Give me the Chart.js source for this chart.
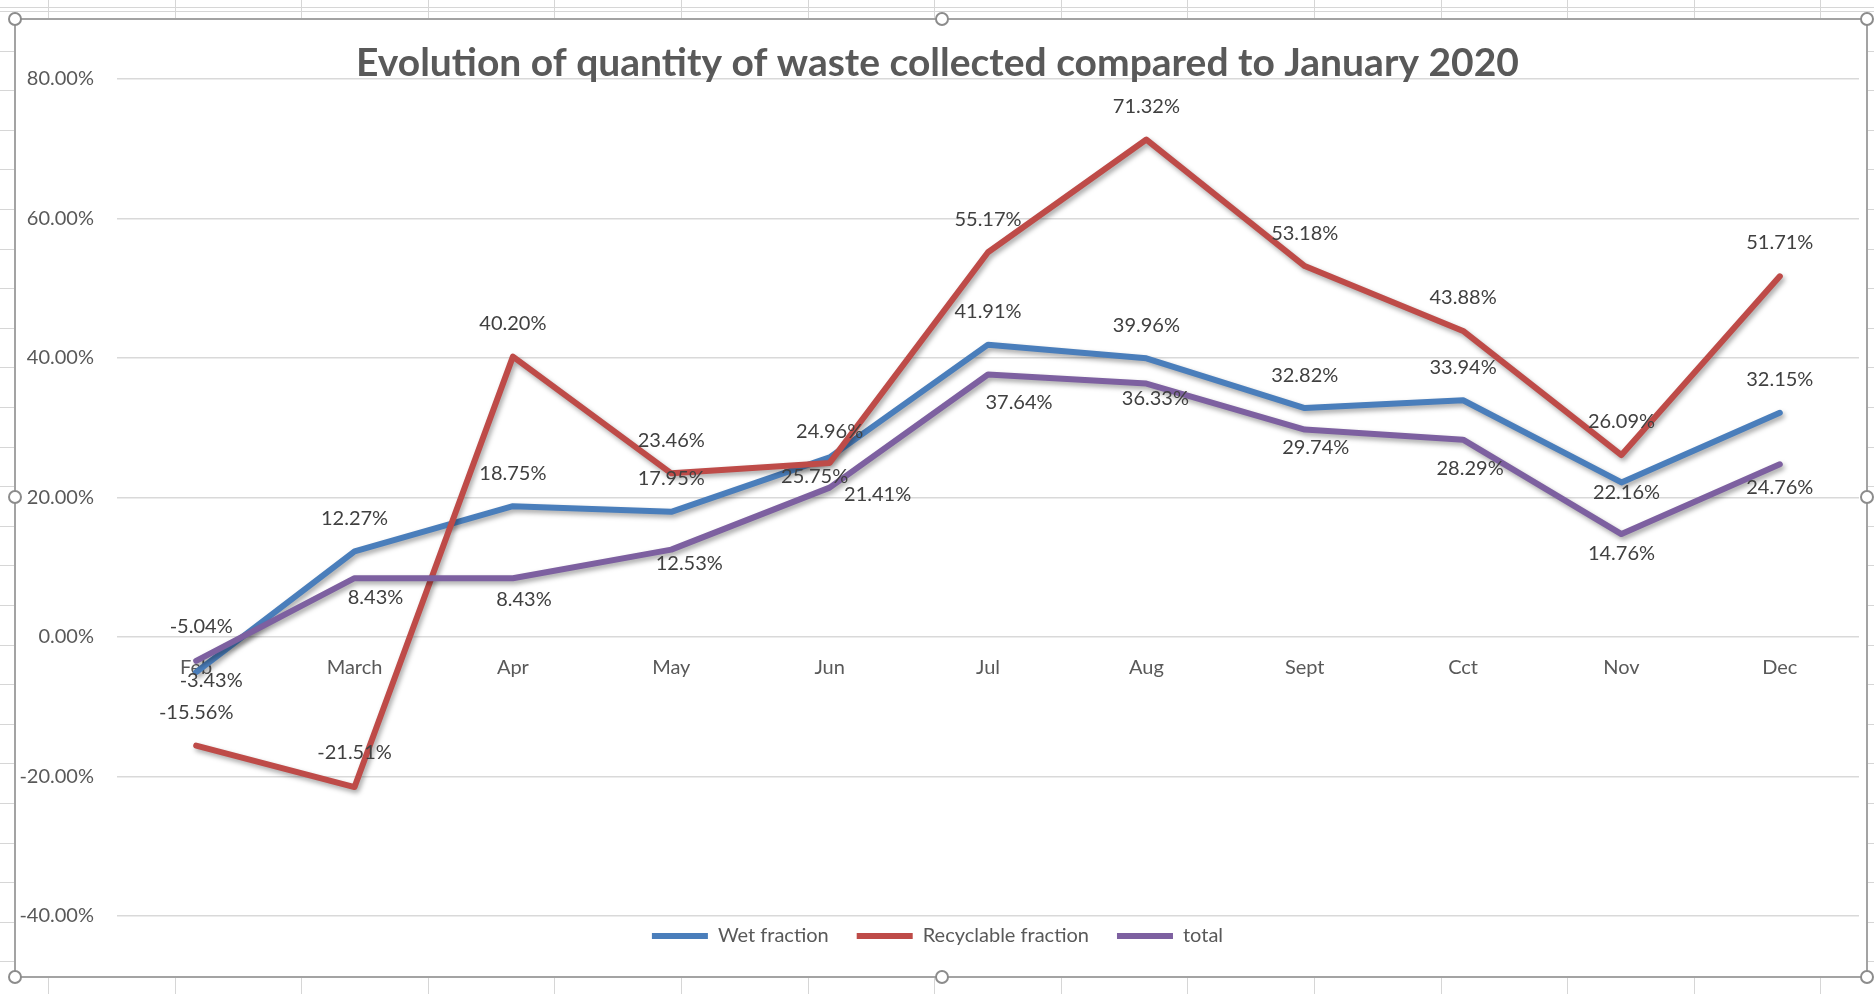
<!DOCTYPE html>
<html>
<head>
<meta charset="utf-8">
<script src="https://cdn.jsdelivr.net/npm/chart.js@4/dist/chart.umd.min.js"></script>
<style>
  html, body { margin: 0; padding: 0; }
  body {
    width: 1874px; height: 994px; overflow: hidden; position: relative;
    background-color: #ffffff;
    background-image:
      repeating-linear-gradient(to right, #d6d6d6 0px, #d6d6d6 1px, transparent 1px, transparent 126.6px),
      repeating-linear-gradient(to bottom, #d6d6d6 0px, #d6d6d6 1px, transparent 1px, transparent 39.6px);
    background-position: 48px 0px, 0px 11px;
  }
  #frame {
    position: absolute; left: 14px; top: 18px; width: 1854px; height: 960px;
    box-sizing: border-box; border: 2px solid #a3a3a3; background: #ffffff;
  }
  #wrap { position: absolute; left: 16px; top: 20px; width: 1848px; height: 954px; }
  .handle {
    position: absolute; width: 14px; height: 14px; box-sizing: border-box;
    border: 2px solid #8c8c8c; border-radius: 50%; background: #ffffff;
    transform: translate(-50%, -50%);
  }
</style>
</head>
<body>
<div id="frame"></div>
<div id="wrap"><canvas id="chart"></canvas></div>
<div class="handle" style="left:15px;top:19px"></div>
<div class="handle" style="left:942px;top:19px"></div>
<div class="handle" style="left:1867px;top:19px"></div>
<div class="handle" style="left:15px;top:497px"></div>
<div class="handle" style="left:1867px;top:497px"></div>
<div class="handle" style="left:15px;top:977px"></div>
<div class="handle" style="left:942px;top:977px"></div>
<div class="handle" style="left:1867px;top:977px"></div>
<script>
// ---- data ----
const categories = ['Feb', 'March', 'Apr', 'May', 'Jun', 'Jul', 'Aug', 'Sept', 'Cct', 'Nov', 'Dec'];
const wetFraction = [-5.04, 12.27, 18.75, 17.95, 25.75, 41.91, 39.96, 32.82, 33.94, 22.16, 32.15];
const recyclableFraction = [-15.56, -21.51, 40.20, 23.46, 24.96, 55.17, 71.32, 53.18, 43.88, 26.09, 51.71];
const total = [-3.43, 8.43, 8.43, 12.53, 21.41, 37.64, 36.33, 29.74, 28.29, 14.76, 24.76];
const yTickValues = [-40, -20, 0, 20, 40, 60, 80];
const seriesNames = ['Wet fraction', 'Recyclable fraction', 'total'];
const titleText = 'Evolution of quantity of waste collected compared to January 2020';

// ---- label placement (styling only: pixel offsets of each data label from its point) ----
const wetLabelDx = [5, 0, 0, 0, -15, 0, 0, 0, 0, 5, 0];
const wetLabelDy = [-46, -33, -33, -33, 19, -33, -33, -33, -33, 10, -33];
const recLabelDx = [0, 0, 0, 0, 0, 0, 0, 0, 0, 0, 0];
const recLabelDy = [-33, -34, -33, -33, -31, -33, -33, -33, -33, -33, -34];
const totLabelDx = [15, 21, 11, 18, 48, 31, 9, 11, 7, 0, 0];
const totLabelDy = [20, 19, 21, 14, 7, 28, 15, 18, 29, 19, 23];

const FONT = 'Lato, "Open Sans", "DejaVu Sans", sans-serif';
const TEXT = '#595959';

const shadowPlugin = {
  id: 'lineShadow',
  beforeDatasetDraw(chart) {
    const ctx = chart.ctx;
    ctx.save();
    ctx.shadowColor = 'rgba(0,0,0,0.35)';
    ctx.shadowBlur = 5;
    ctx.shadowOffsetX = 2;
    ctx.shadowOffsetY = 3;
  },
  afterDatasetDraw(chart) { chart.ctx.restore(); }
};

const labelPlugin = {
  id: 'valueLabels',
  afterDatasetsDraw(chart) {
    const ctx = chart.ctx;
    ctx.save();
    ctx.font = '20px ' + FONT;
    ctx.fillStyle = '#404040';
    ctx.textAlign = 'center';
    ctx.textBaseline = 'middle';
    chart.data.datasets.forEach((ds, di) => {
      const meta = chart.getDatasetMeta(di);
      meta.data.forEach((pt, i) => {
        const v = ds.data[i];
        ctx.fillText(v.toFixed(2) + '%', pt.x + ds.labelDx[i], pt.y + ds.labelDy[i]);
      });
    });
    ctx.restore();
  }
};

const legendShift = {
  id: 'legendShift',
  afterLayout(chart) {
    if (chart.legend) { chart.legend.top -= 18; chart.legend.bottom -= 18; }
  }
};

const lineStyle = { borderWidth: 6, tension: 0, borderCapStyle: 'round', borderJoinStyle: 'round', fill: false,
                    pointRadius: 0, pointHoverRadius: 0 };

new Chart(document.getElementById('chart'), {
  type: 'line',
  data: {
    labels: categories,
    datasets: [
      Object.assign({ label: seriesNames[0], data: wetFraction, borderColor: '#4A7EBB', backgroundColor: '#4A7EBB',
        labelDx: wetLabelDx, labelDy: wetLabelDy, order: 2 }, lineStyle),
      Object.assign({ label: seriesNames[1], data: recyclableFraction, borderColor: '#BE4B48', backgroundColor: '#BE4B48',
        labelDx: recLabelDx, labelDy: recLabelDy, order: 1 }, lineStyle),
      Object.assign({ label: seriesNames[2], data: total, borderColor: '#7D60A0', backgroundColor: '#7D60A0',
        labelDx: totLabelDx, labelDy: totLabelDy, order: 0 }, lineStyle)
    ]
  },
  options: {
    responsive: true,
    maintainAspectRatio: false,
    animation: false,
    events: [],
    layout: { padding: { left: 0, right: 5, top: 0, bottom: 0 } },
    scales: {
      x: {
        type: 'category',
        position: { y: 0 },
        offset: true,
        grid: { display: false, drawTicks: false },
        border: { display: false },
        ticks: { color: TEXT, font: { family: FONT, size: 20 }, padding: 19, maxRotation: 0, autoSkip: false }
      },
      y: {
        min: -40, max: 80,
        afterBuildTicks(scale) { scale.ticks = yTickValues.map(v => ({ value: v })); },
        afterFit(scale) { scale.width = 101; },
        grid: { color: '#d9d9d9', lineWidth: 1.5, drawTicks: false },
        border: { display: false },
        ticks: {
          color: TEXT, font: { family: FONT, size: 20 }, padding: 23,
          callback: v => Number(v).toFixed(2) + '%'
        }
      }
    },
    plugins: {
      tooltip: { enabled: false },
      title: {
        display: true, text: titleText, color: TEXT,
        font: { family: FONT, size: 39, weight: 'bold' },
        padding: { top: 19.6, bottom: -7.4 }
      },
      legend: {
        position: 'bottom',
        maxHeight: 58,
        labels: {
          color: TEXT, font: { family: FONT, size: 20 },
          usePointStyle: true, pointStyle: 'line', pointStyleWidth: 56, boxHeight: 20,
          padding: 28,
          sort: (a, b) => a.datasetIndex - b.datasetIndex
        }
      }
    }
  },
  plugins: [shadowPlugin, labelPlugin, legendShift]
});
</script>
</body>
</html>
